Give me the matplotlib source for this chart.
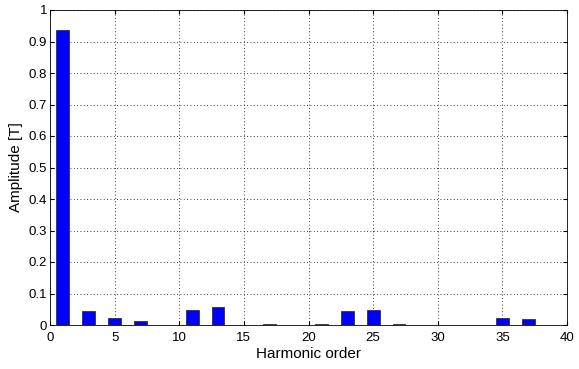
import matplotlib.pyplot as plt

harmonics = [1, 3, 5, 7, 9, 11, 13, 15, 17, 19, 21, 23, 25, 27, 29, 31, 33, 35, 37, 39]
amplitude = [0.936, 0.045, 0.021, 0.013, 0.001, 0.048, 0.057, 0.0003, 0.002, 0.0003,
             0.003, 0.045, 0.047, 0.002, 0.0015, 0.0005, 0.001, 0.021, 0.019, 0.0015]

plt.rcParams['font.family'] = ['Liberation Sans', 'DejaVu Sans']

fig = plt.figure(figsize=(5.79, 3.69), dpi=100)
ax = fig.add_axes([50 / 579, 44 / 369, 517 / 579, 315 / 369])

ax.bar(harmonics, amplitude, width=1.0, color='#0000ff', edgecolor='#333333',
       linewidth=0.6, zorder=3)

ax.set_xlim(0, 40)
ax.set_ylim(0, 1)
ax.set_xticks(range(0, 41, 5))
ax.set_yticks([i / 10 for i in range(11)])
ax.set_yticklabels(['0', '0.1', '0.2', '0.3', '0.4', '0.5', '0.6', '0.7', '0.8', '0.9', '1'])
ax.grid(True, color='black', linestyle=(0, (1, 3)), linewidth=0.6)
ax.tick_params(direction='in', labelsize=9.5, top=True, right=True, length=3, pad=2)
ax.tick_params(axis='x', pad=5)
for s in ax.spines.values():
    s.set_linewidth(0.6)

ax.set_xlabel('Harmonic order', fontsize=11, labelpad=2)
ax.set_ylabel('Amplitude [T]', fontsize=11, labelpad=4)

fig.savefig('out.png', dpi=100)
